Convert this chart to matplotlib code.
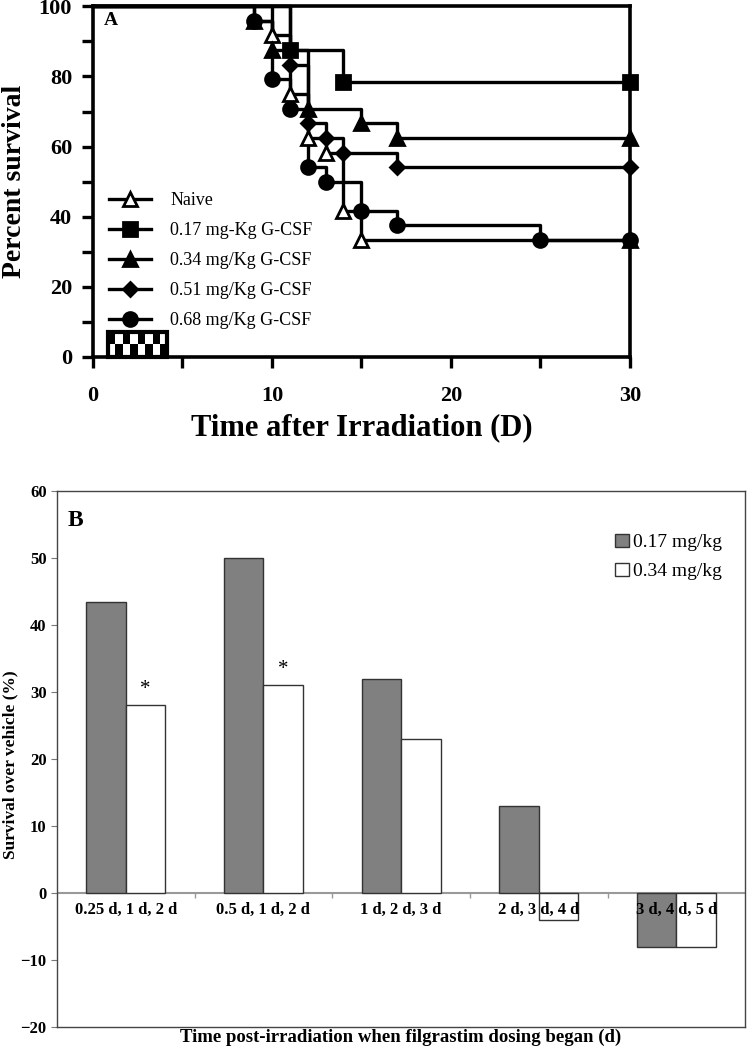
import numpy as np
import matplotlib
matplotlib.use('Agg')
from matplotlib import pyplot as plt
from matplotlib.patches import Rectangle

plt.rcParams['font.family'] = ['Liberation Serif', 'DejaVu Serif']

# ---- panel A: survival curves (day, percent survival) ----
naive_t = [0, 10, 11, 12, 13, 14, 15, 30]
naive_s = [100, 91.7, 75, 62.5, 58.3, 41.7, 33.3, 33.3]
g017_t = [0, 11, 14, 30]
g017_s = [100, 87.5, 78.3, 78.3]
g034_t = [0, 9, 10, 12, 15, 17, 30]
g034_s = [100, 95.8, 87.5, 70.8, 66.7, 62.5, 62.5]
g051_t = [0, 11, 12, 13, 14, 17, 30]
g051_s = [100, 83.3, 66.7, 62.5, 58.3, 54.2, 54.2]
g068_t = [0, 9, 10, 11, 12, 13, 15, 17, 25, 30]
g068_s = [100, 95.8, 79.2, 70.8, 54.2, 50, 41.7, 37.5, 33.3, 33.3]
dosing_days = (0.85, 4.15)   # checkered bar = dosing period

# ---- panel B: survival over vehicle (%) ----
start_labels = ['0.25 d, 1 d, 2 d', '0.5 d, 1 d, 2 d', '1 d, 2 d, 3 d',
                '2 d, 3 d, 4 d', '3 d, 4 d, 5 d']
dose_017 = [43.5, 50, 32, 13, -8]
dose_034 = [28, 31, 23, -4, -8]
signif_034 = [True, True, False, False, False]

fig = plt.figure(figsize=(7.49, 10.5), dpi=100)

# ================= A =================
ax = fig.add_axes([0.124, 0.66, 0.717, 0.334])
curves = [
    (naive_t, naive_s, '^', 'white', 'Naive'),
    (g017_t, g017_s, 's', 'black', '0.17 mg-Kg G-CSF'),
    (g034_t, g034_s, '^', 'black', '0.34 mg/Kg G-CSF'),
    (g051_t, g051_s, 'D', 'black', '0.51 mg/Kg G-CSF'),
    (g068_t, g068_s, 'o', 'black', '0.68 mg/Kg G-CSF'),
]
for t, s, m, fc, lab in curves:
    ax.step(t, s, where='post', color='black', lw=2.4, zorder=3, clip_on=False)
    ms = 7.5 if m == 'D' else 10
    ax.plot(t[1:], s[1:], ls='none', marker=m, ms=ms, mfc=fc, mec='black',
            mew=2, zorder=4, clip_on=False)
    ax.plot([], [], color='black', lw=2.4, marker=m, ms=ms, mfc=fc,
            mec='black', mew=2, label=lab)

# checkered dosing box
checker = np.indices((2, 8)).sum(axis=0) % 2
ax.imshow(checker, cmap='gray', extent=(dosing_days[0], dosing_days[1], 0.6, 6.5),
          aspect='auto', interpolation='nearest', zorder=5)
ax.add_patch(Rectangle((dosing_days[0], 0), dosing_days[1] - dosing_days[0], 7.1,
                       fill=False, ec='black', lw=3, zorder=6, clip_on=False))

ax.set_xlim(0, 30)
ax.set_ylim(0, 100)
ax.set_xticks([0, 10, 20, 30])
ax.set_xticks([5, 15, 25], minor=True)
ax.set_yticks(range(0, 101, 20))
ax.set_yticks(range(10, 100, 20), minor=True)
ax.tick_params(which='both', direction='out', length=8, width=2.4,
               labelsize=16)
ax.tick_params(axis='x', pad=13)
ax.tick_params(axis='y', pad=7)
for lb in ax.get_xticklabels() + ax.get_yticklabels():
    lb.set_fontweight('bold')
for sp in ax.spines.values():
    sp.set_linewidth(2.6)
ax.set_xlabel('Time after Irradiation (D)', fontsize=22, fontweight='bold',
              labelpad=5)
ax.set_ylabel('Percent survival', fontsize=20, fontweight='bold')
ax.yaxis.set_label_coords(-0.122, 0.5)
ax.text(0.02, 0.985, 'A', transform=ax.transAxes, fontsize=14,
        fontweight='bold', va='top')
ax.legend(loc='upper left', bbox_to_anchor=(0.03, 0.47), frameon=False,
          fontsize=13, handlelength=2.3, handletextpad=1.1, labelspacing=0.72,
          borderpad=0, borderaxespad=0)

# ================= B =================
bx = fig.add_axes([0.076, 0.0219, 0.919, 0.5105])
x = np.arange(len(start_labels))
w = 0.287
bx.bar(x - w / 2, dose_017, w, color='#808080', edgecolor='#333333', lw=1,
       label='0.17 mg/kg', zorder=2)
bx.bar(x + w / 2, dose_034, w, color='white', edgecolor='#333333', lw=1,
       label='0.34 mg/kg', zorder=2)
for xi, v, sig in zip(x, dose_034, signif_034):
    if sig:
        bx.text(xi + w / 2, v + 1.0, '*', ha='center', va='bottom',
                fontsize=15)
bx.axhline(0, color='#999999', lw=1.5, zorder=1)
bx.vlines(x[:-1] + 0.5, -0.7, 0, color='#999999', lw=1)
for xi, lab in zip(x, start_labels):
    bx.text(xi, -1.3, lab, ha='center', va='top', fontsize=12,
            fontweight='bold', zorder=5)
bx.set_xlim(-0.5, len(start_labels) - 0.5)
bx.set_ylim(-20, 60)
bx.set_xticks([])
bx.set_yticks(range(-20, 61, 10))
bx.tick_params(axis='y', direction='out', length=4, color='#777777',
               labelsize=12)
for lb in bx.get_yticklabels():
    lb.set_fontweight('bold')
for sp in bx.spines.values():
    sp.set_color('#444444')
    sp.set_linewidth(1)
bx.set_xlabel('Time post-irradiation when filgrastim dosing began (d)',
              fontsize=13.5, fontweight='bold', labelpad=1)
bx.set_ylabel('Survival over vehicle (%)', fontsize=12.5, fontweight='bold')
bx.yaxis.set_label_coords(-0.056, 0.49)
bx.text(0.015, 0.965, 'B', transform=bx.transAxes, fontsize=17,
        fontweight='bold', va='top')
bx.legend(loc='upper left', bbox_to_anchor=(0.80, 0.935), frameon=False,
          fontsize=14, handlelength=0.7, handleheight=0.7, handletextpad=0.2,
          labelspacing=0.6, borderaxespad=0)

fig.savefig('out.png', dpi=100)
